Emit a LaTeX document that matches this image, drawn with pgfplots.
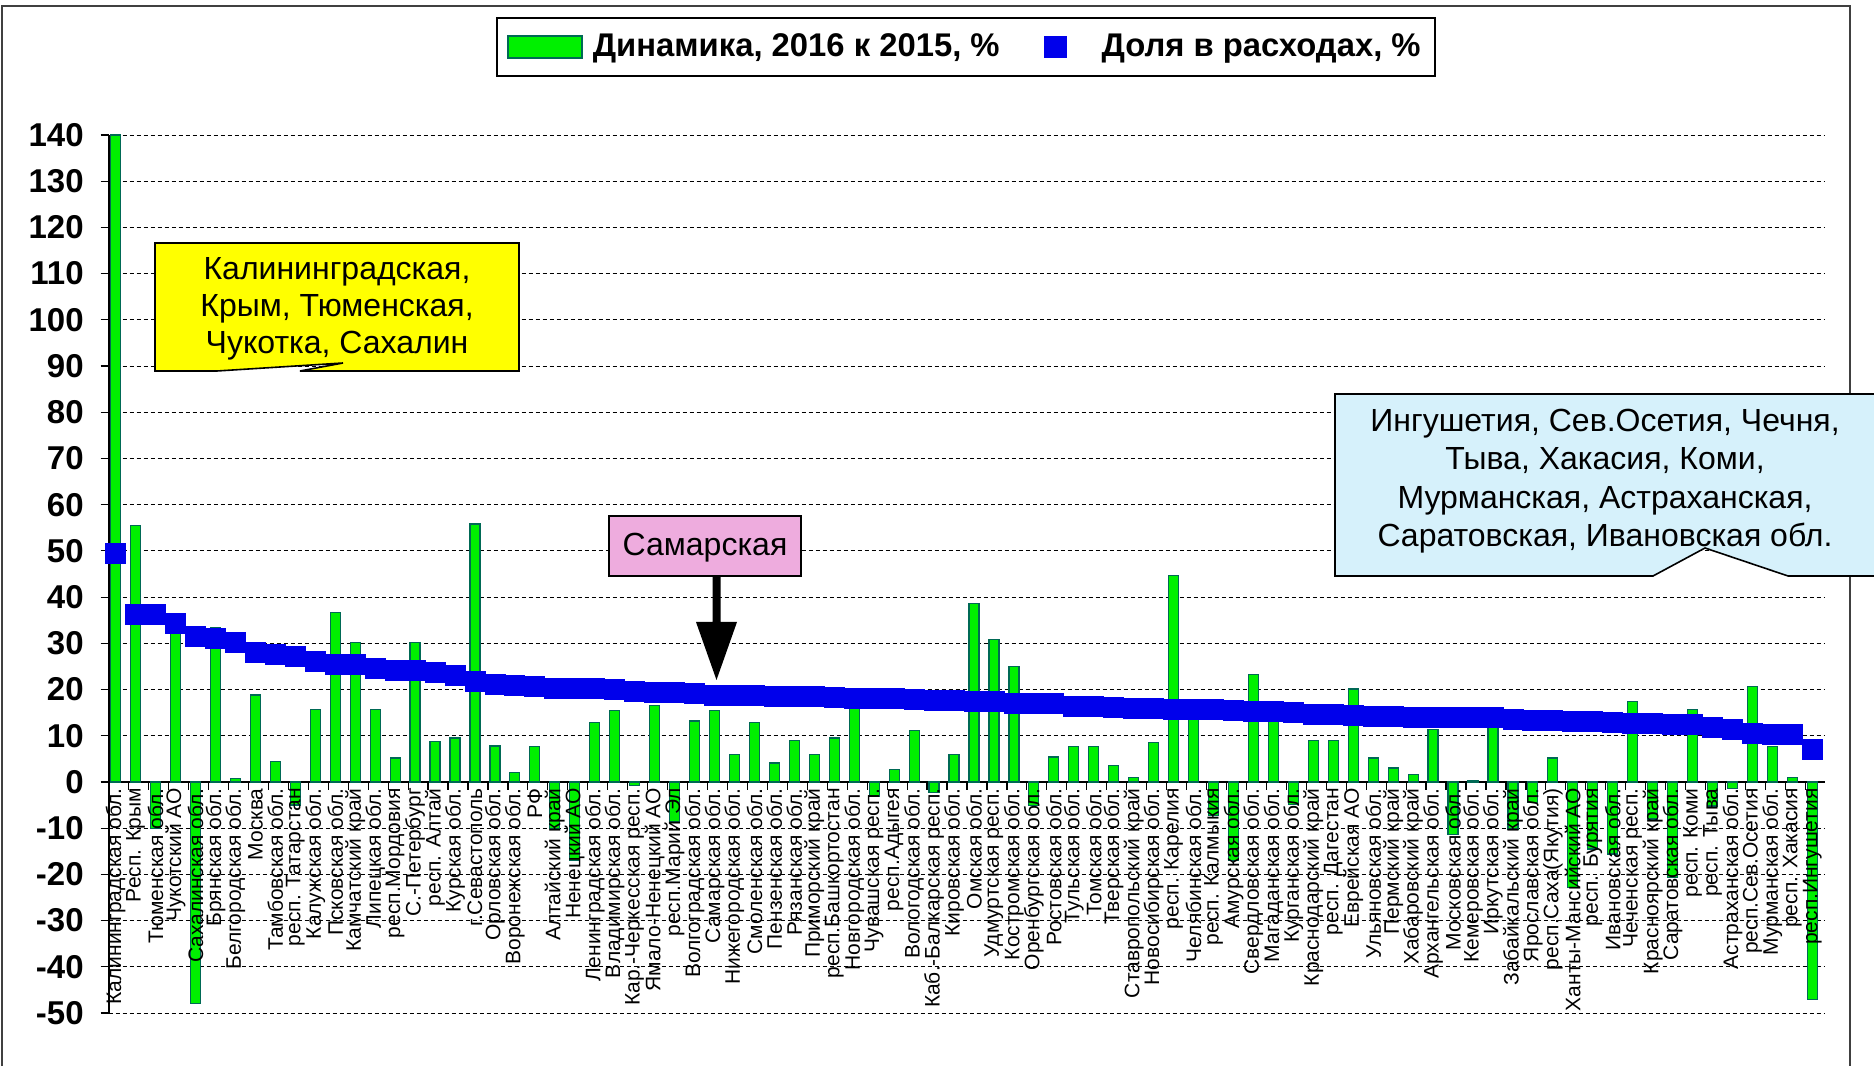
\documentclass[border=0pt]{standalone}
\usepackage{fontspec}
\setmainfont{Liberation Sans}
\usepackage{pgfplots}
\usepackage{pgfplotstable}
\pgfplotsset{compat=1.18}

\definecolor{barfill}{RGB}{0,240,0}
\definecolor{baredge}{RGB}{0,105,85}
\definecolor{markblue}{RGB}{0,0,235}
\definecolor{noteyellow}{RGB}{255,255,0}
\definecolor{notepink}{RGB}{238,172,222}
\definecolor{noteblue}{RGB}{214,241,251}

\pgfplotsset{
  frame geom/.style={
    at={(54.35pt,26.5pt)}, anchor=south west,
    scale only axis, width=858.3pt, height=439pt,
    xmin=0.65, xmax=86.65, ymin=-50, ymax=140,
    clip=false,
  },
}

% idx = region number, din = growth 2016 vs 2015 (%), dolya = share of spending (%)
\pgfplotstableread{
idx din dolya
1 140 49.5
2 55.5 36.3
3 -10 36.3
4 33 34.4
5 -48 31.6
6 33.5 31.1
7 0.7 30.1
8 18.8 28.1
9 4.5 27.6
10 -5 27.1
11 15.7 26.0
12 36.7 25.5
13 30.2 25.5
14 15.7 24.6
15 5.2 24.2
16 30.2 24.1
17 8.8 23.6
18 9.5 23.1
19 55.8 21.7
20 7.8 21.2
21 2.0 20.8
22 7.6 20.6
23 -10 20.3
24 -17 20.3
25 12.9 20.2
26 15.4 20.1
27 -0.7 19.6
28 16.5 19.4
29 -8.5 19.3
30 13.2 19.2
31 15.4 18.8
32 6.0 18.7
33 12.9 18.7
34 4.1 18.6
35 8.9 18.6
36 6.0 18.5
37 9.5 18.2
38 16.3 18.1
39 -3.1 18.1
40 2.7 18.0
41 11.1 17.9
42 -2.2 17.6
43 6.0 17.6
44 38.7 17.5
45 30.9 17.4
46 24.9 17.1
47 -5.1 17.0
48 5.4 16.9
49 7.6 16.4
50 7.6 16.3
51 3.5 16.1
52 0.9 16.0
53 8.5 15.9
54 44.6 15.8
55 16.8 15.7
56 -7.3 15.6
57 -17 15.5
58 23.3 15.3
59 15 15.2
60 -4.8 15.1
61 8.9 14.7
62 8.9 14.6
63 20.1 14.5
64 5.2 14.2
65 3.0 14.1
66 1.6 14.0
67 11.4 14.0
68 -11.3 14.0
69 0.3 14.0
70 14.5 13.9
71 -10.2 13.5
72 -4.5 13.4
73 5.2 13.3
74 -22.8 13.1
75 -14.5 13.0
76 -15.6 12.8
77 17.4 12.7
78 -8 12.6
79 -20.6 12.5
80 15.7 12.4
81 -5.2 11.9
82 -1.5 11.3
83 20.6 10.6
84 7.6 10.3
85 0.9 10.2
86 -47 7.0
}\regiondata

\begin{document}
\begin{tikzpicture}
\path[use as bounding box] (0,0) rectangle (937pt,533pt);
\draw[black!75, line width=0.8pt] (1pt,0pt) -- (1pt,530pt) -- (925pt,530pt) -- (925pt,0pt);

% data axis: grid, bars, squares, legend
\begin{axis}[
  frame geom,
  axis x line=middle, axis y line=left,
  axis line style={black, line width=0.8pt, -},
  every inner x axis line/.append style={-},
  every outer y axis line/.append style={-},
  xtick={1.65,2.65,...,85.65},
  xticklabels={},
  xtick align=outside, ytick align=outside,
  major tick length=4pt,
  tick style={black, line width=0.6pt},
  ytick={-50,-40,...,140},
  ymajorgrids,
  major grid style={black, line width=0.45pt, dash pattern=on 2pt off 1.5pt},
  /pgf/number format/assume math mode=true,
  yticklabel style={font=\bfseries\fontsize{16.5}{16.5}\selectfont, xshift=-5pt},
  legend columns=2,
  legend style={at={(0.4994,1.1344)}, anchor=north, draw=black, line width=0.9pt,
    fill=white, inner xsep=5pt, inner ysep=6pt,
    font=\bfseries\fontsize{16.4}{19}\selectfont,
    /tikz/every even column/.append style={column sep=20pt}},
]
\addplot[ybar, bar width=5pt, bar shift=0pt, fill=barfill, draw=baredge, line width=0.6pt,
  legend image code/.code={\draw[fill=barfill, draw=baredge, line width=1pt] (0pt,-5.5pt) rectangle (37pt,5.5pt); \path (40pt,0pt);}]
  table[x=idx, y=din] {\regiondata};
\addlegendentry{Динамика, 2016 к 2015, \%}
\addplot[only marks, mark=square*, mark size=5pt, color=markblue,
  legend image code/.code={\fill[markblue] (0pt,-5pt) rectangle (10.5pt,5pt); \path (26pt,0pt);}]
  table[x=idx, y=dolya] {\regiondata};
\addlegendentry{Доля в расходах, \%\hspace{3pt}}
\end{axis}

% label axis: region names drawn over the bars
\begin{axis}[
  frame geom,
  axis x line=middle, axis y line=none,
  axis line style={draw=none},
  tick style={draw=none},
  xtick={1,...,86},
  ytick=\empty,
  major tick length=4pt,
  xticklabel style={font=\fontsize{10.5}{11}\selectfont, rotate=90, anchor=east, inner sep=1pt},
  xticklabels={Калининградская обл., Респ. Крым, Тюменская обл., Чукотский АО,
    Сахалинская обл., Брянская обл., Белгородская обл., Москва, Тамбовская обл.,
    респ. Татарстан, Калужская обл., Псковская обл., Камчатский край, Липецкая обл.,
    респ.Мордовия, С.-Петербург, респ. Алтай, Курская обл., г.Севастополь,
    Орловская обл., Воронежская обл., РФ, Алтайский край, Ненецкий АО,
    Ленинградская обл., Владимирская обл., Кар.-Черкесская респ., Ямало-Ненецкий АО,
    респ.Марий Эл, Волгоградская обл., Самарская обл., Нижегородская обл.,
    Смоленская обл., Пензенская обл., Рязанская обл., Приморский край,
    респ.Башкортостан, Новгородская обл., Чувашская респ., респ.Адыгея,
    Вологодская обл., Каб.-Балкарская респ., Кировская обл., Омская обл.,
    Удмуртская респ., Костромская обл., Оренбургская обл., Ростовская обл.,
    Тульская обл., Томская обл., Тверская обл., Ставропольский край,
    Новосибирская обл., респ. Карелия, Челябинская обл., респ. Калмыкия,
    Амурская обл., Свердловская обл., Магаданская обл., Курганская обл.,
    Краснодарский край, респ. Дагестан, Еврейская АО, Ульяновская обл.,
    Пермский край, Хабаровский край, Архангельская обл., Московская обл.,
    Кемеровская обл., Иркутская обл., Забайкальский край, Ярославская обл.,
    респ.Саха(Якутия), Ханты-Мансийский АО, респ. Бурятия, Ивановская обл.,
    Чеченская респ., Красноярский край, Саратовская обл., респ. Коми,
    респ. Тыва, Астраханская обл., респ.Сев.Осетия, Мурманская обл.,
    респ. Хакасия, респ.Ингушетия},
]
\addplot[draw=none] coordinates {(1,0) (86,0)};
\end{axis}

\begin{scope}[shift={(0pt,533pt)}, x=0.5pt, y=-0.5pt]
  % yellow callout
  \filldraw[fill=noteyellow, draw=black, line width=0.8pt]
    (155,243) -- (519,243) -- (519,371) -- (300,371) -- (343,363) -- (217,371) -- (155,371) -- cycle;
  \node[align=center, font=\fontsize{16}{18.5}\selectfont] at (337,309)
    {Калининградская,\\Крым, Тюменская,\\Чукотка, Сахалин};
  % Samara label and arrow
  \filldraw[fill=notepink, draw=black, line width=0.8pt] (609,516) rectangle (801,576);
  \node[font=\fontsize{16}{18}\selectfont] at (705,548) {Самарская};
  \fill[black] (712.5,576) -- (720.5,576) -- (720.5,622) -- (737,622) -- (716.5,680)
    -- (696,622) -- (712.5,622) -- cycle;
  % blue callout
  \filldraw[fill=noteblue, draw=black, line width=0.8pt]
    (1335,394) -- (1880,394) -- (1880,576) -- (1788,576) -- (1705,548) -- (1653,576) -- (1335,576) -- cycle;
  \node[align=center, font=\fontsize{16}{19.2}\selectfont] at (1605,481)
    {Ингушетия, Сев.Осетия, Чечня,\\Тыва, Хакасия, Коми,\\Мурманская, Астраханская,\\Саратовская, Ивановская обл.};
\end{scope}
\end{tikzpicture}
\end{document}
